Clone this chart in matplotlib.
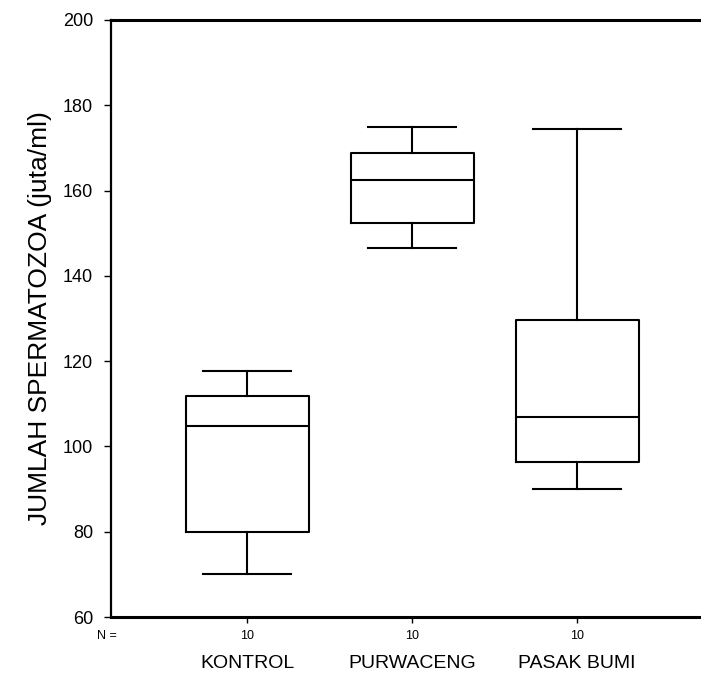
import matplotlib
matplotlib.use("Agg")
import matplotlib.pyplot as plt

plt.rcParams["font.family"] = ["Liberation Sans", "DejaVu Sans"]

# Box summaries
groups = ["KONTROL", "PURWACENG", "PASAK BUMI"]
n_values = [10, 10, 10]
whisker_low = [70, 146.5, 90]
q1 = [80, 152.3, 96.3]
median = [104.8, 162.5, 106.8]
q3 = [111.8, 168.8, 129.6]
whisker_high = [117.8, 175, 174.5]

stats = []
for i, g in enumerate(groups):
    stats.append({
        "label": g,
        "whislo": whisker_low[i],
        "q1": q1[i],
        "med": median[i],
        "q3": q3[i],
        "whishi": whisker_high[i],
        "fliers": [],
    })

fig = plt.figure(figsize=(7.01, 6.77), dpi=100)
ax = fig.add_axes([0.1583, 0.0886, 0.8417, 0.8819])

lw = 1.5
positions = [1, 2, 3]
ax.bxp(stats, positions=positions, widths=0.745, showfliers=False,
       boxprops=dict(color="black", linewidth=lw),
       medianprops=dict(color="black", linewidth=lw),
       whiskerprops=dict(color="black", linewidth=lw),
       capprops=dict(color="black", linewidth=lw),
       capwidths=0.53)

ax.set_xlim(0.175, 3.75)
ax.set_ylim(60, 200)
ax.set_yticks(range(60, 201, 20))
ax.tick_params(axis="y", labelsize=13, length=5, width=1, direction="out", pad=8)
ax.set_xticks(positions)
ax.set_xticklabels([str(n) for n in n_values], fontsize=9)
ax.tick_params(axis="x", length=4, width=1, direction="out", pad=5)

ax.spines["left"].set_linewidth(1.6)
ax.spines["bottom"].set_linewidth(2.2)
ax.spines["top"].set_linewidth(2.2)
ax.spines["right"].set_visible(False)

ax.set_ylabel("JUMLAH SPERMATOZOA (juta/ml)", fontsize=19, labelpad=8)

# N = marker and group names below axis
ax.text(-0.007, -0.031, "N =", transform=ax.transAxes, ha="center", va="center", fontsize=9)
for p, g in zip(positions, groups):
    ax.text(p, -0.078, g, transform=ax.get_xaxis_transform(), ha="center", va="center", fontsize=14)

plt.savefig("out.png", dpi=100)
